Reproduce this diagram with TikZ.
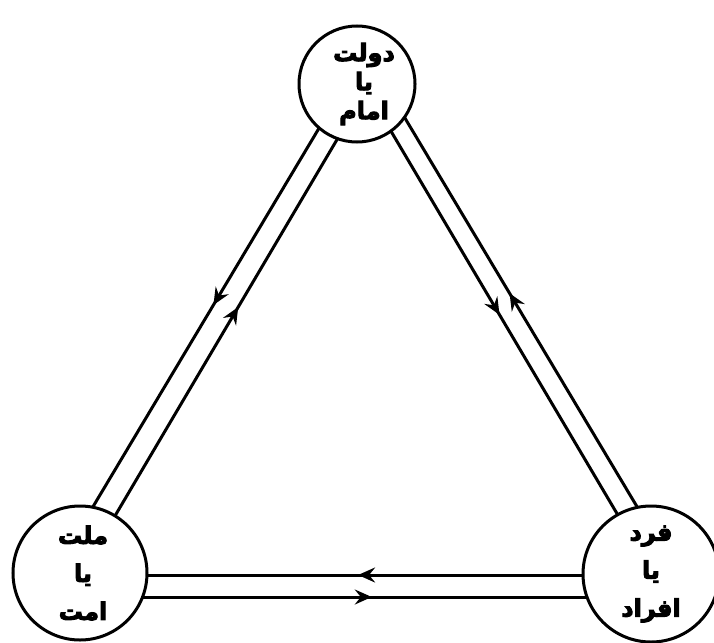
\documentclass[tikz,border=0pt]{standalone}
\usepackage{fontspec}
\newfontfamily\arabicfont[Script=Arabic,BoldFont={DejaVu Sans Bold},BoldFeatures={FakeBold=4}]{DejaVu Sans}
\TeXXeTstate=1
\usetikzlibrary{calc,arrows.meta,decorations.markings}
\begin{document}
\begin{tikzpicture}[x=1pt,y=-1pt,
  conn/.style={line width=3pt},
  midarrow/.style={postaction={decorate},decoration={markings,mark=at position #1 with {\arrow{Stealth[length=17pt,width=15pt,inset=6pt]}}}},
  place/.style={circle,draw,line width=3pt,fill=white,inner sep=0pt,align=center},
  toptext/.style={font=\arabicfont\bfseries\fontsize{24}{29}\selectfont},
  bottext/.style={font=\arabicfont\bfseries\fontsize{24}{38}\selectfont}
]
\useasboundingbox (0,0) rectangle (714,642);
\coordinate (t) at (357,84);
\coordinate (l) at (80,573);
\coordinate (r) at (651,574);

% connector end points (inside the filled circles)
\coordinate (tlo) at ($(t)+(-11.6,0)$);
\coordinate (llo) at ($(l)+(-26.6,0)$);
\coordinate (tli) at ($(t)+(12.8,0)$);
\coordinate (lli) at ($(l)+(1.3,0)$);
\coordinate (tri) at ($(t)+(6.1,0)$);
\coordinate (rri) at ($(r)+(1.7,0)$);
\coordinate (tro) at ($(t)+(27.6,0)$);
\coordinate (rro) at ($(r)+(26.2,0)$);

% connectors (hidden inside the filled circles)
\draw[conn,midarrow=0.452] (tlo) -- (llo);
\draw[conn,midarrow=0.544] (lli) -- (tli);
\draw[conn,midarrow=0.471] (tri) -- (rri);
\draw[conn,midarrow=0.573] (rro) -- (tro);
\draw[conn,midarrow=0.513] ($(r)+(0,1)$) -- ($(l)+(0,2)$);
\draw[conn,midarrow=0.511] ($(l)+(0,24)$) -- ($(r)+(0,23)$);

% circles
\node[place,toptext,minimum size=116pt] (top) at (t) {\raisebox{3pt}{\hspace*{14pt}\beginR دولت\endR}\\\raisebox{3pt}{\hspace*{14pt}\beginR یا\endR}\\\raisebox{3pt}{\hspace*{14pt}\beginR امام\endR}};
\node[place,bottext,minimum size=134pt] (left) at (l) {\hspace*{6pt}\beginR ملت\endR\\\hspace*{6pt}\beginR یا\endR\\\hspace*{6pt}\beginR امت\endR};
\node[place,bottext,minimum size=136pt] (right) at (r) {\beginR فرد\endR\\\beginR یا\endR\\\beginR افراد\endR};
\end{tikzpicture}
\end{document}
